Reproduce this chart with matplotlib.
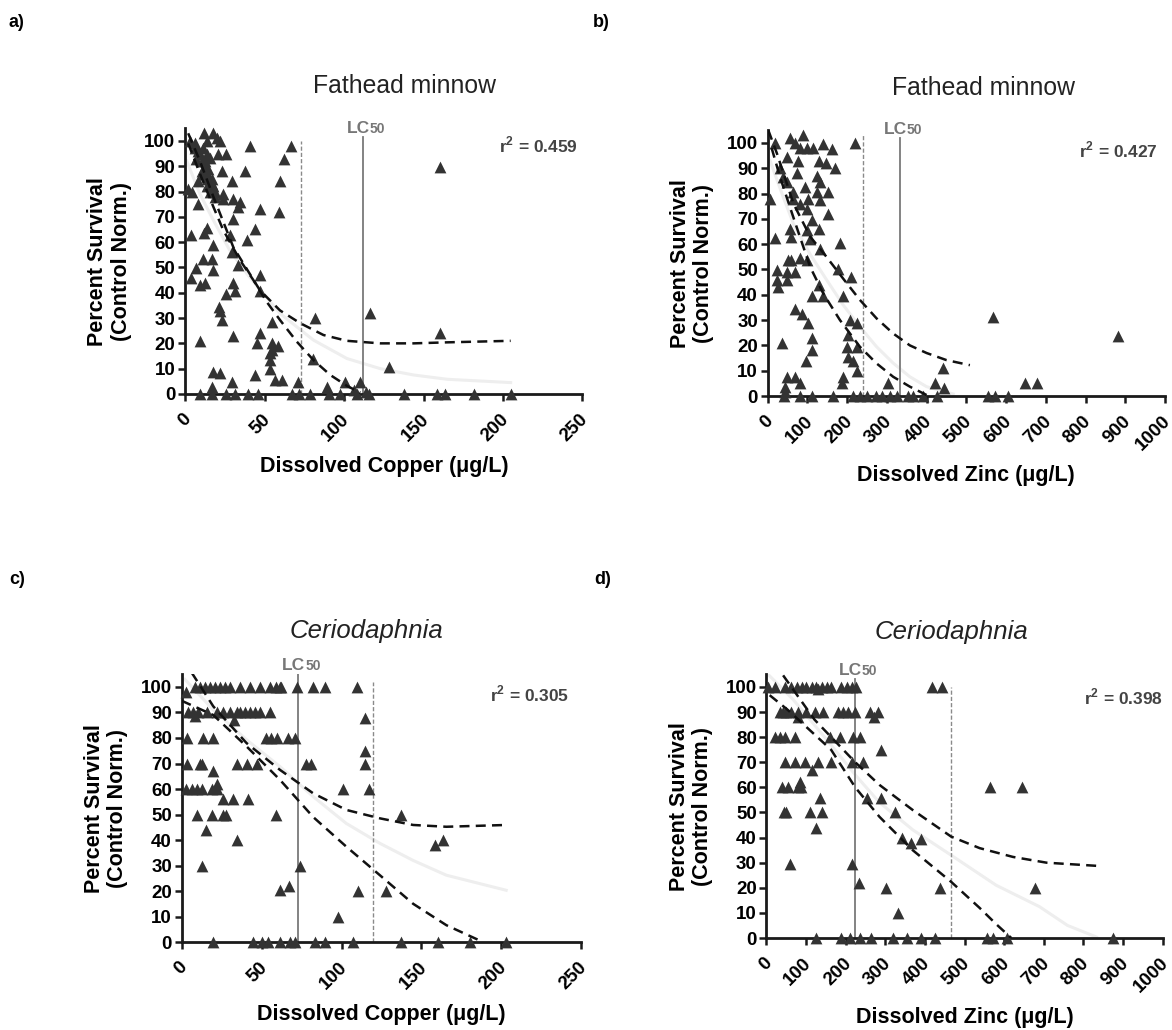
import matplotlib
matplotlib.use("Agg")
import matplotlib.pyplot as plt
from matplotlib.transforms import ScaledTranslation

plt.rcParams['font.family'] = ['Liberation Sans', 'DejaVu Sans']
plt.rcParams['mathtext.fontset'] = 'custom'
plt.rcParams['mathtext.rm'] = 'Liberation Sans'
plt.rcParams['mathtext.bf'] = 'Liberation Sans:bold'

# ---- a) fathead minnow, copper ----
a_x = [3, 11.8, 17.7, 13.5, 19.8, 21.9, 26, 20.8, 11.4, 9.3, 6, 7, 12.4, 14.5, 11.4, 13.5,
       16.6, 15.6, 18.7, 13.5, 8, 10.3, 23.3, 29.2, 24, 24, 30, 34.5, 33.4, 30, 47, 43.9,
       38.7, 37.7, 40.8, 66.4, 62.3, 59.7, 59.3, 160.6, 4, 2, 7.8, 3.4, 11.8, 13.5, 17.7, 7,
       3.8, 9.3, 12.4, 11.4, 16.6, 17.7, 28.2, 29.2, 33.4, 30.2, 31.3, 26, 47, 47, 21.4, 21.9,
       22.9, 30.2, 9.3, 47, 44.9, 54.4, 54.4, 53.4, 53.4, 53.4, 54.4, 58.7, 56.6, 60.7, 81.8,
       80.7, 116.5, 160.6, 128, 17.7, 21.9, 43.9, 16.6, 29.2, 71.3, 89, 100.7, 110, 106, 113.9,
       6, 8.2, 10.3, 12.4, 14.5, 16.6, 17.7, 18.7, 13.5, 15.6,
       9.3, 16.6, 26, 31.3, 39.7, 46, 67.4, 71.5, 78.6, 90.2, 97.5, 108, 115.4, 137.5, 158.6,
       163.8, 181.7, 204.8]
a_y = [100, 103, 103, 100, 101, 100, 95, 95, 97, 95, 97, 93, 92, 89, 87, 85,
       83, 80, 78, 82, 84, 88, 88, 84, 79, 77, 77, 76, 74, 69, 73, 65,
       61, 88, 98, 98, 93, 84, 72, 89.5, 80, 81, 75, 62.8, 63.5, 65.5, 59, 49.6,
       45.7, 43, 44, 53.5, 53.5, 49, 63, 56, 51, 44, 40.8, 39.5, 47, 40.8, 34.5, 32.6,
       29.2, 23, 21, 24, 20, 28.5, 17.4, 16, 13.4, 10, 20, 19, 5.5, 5.5, 30,
       14, 32, 24, 10.8, 8.8, 8.2, 7.5, 2.9, 4.9, 4.9, 2.9, 4.9, 4.9, 1.6, 0.9,
       99, 96, 92, 90, 86.4, 85, 82, 80, 95, 93.4,
       0, 0, 0, 0, 0, 0, 0, 0, 0, 0, 0, 0, 0, 0, 0,
       0, 0, 0]
a_fit_x = [1, 9.3, 17.7, 28, 38.7, 59.7, 80.7, 101.8, 122.8, 143.8, 165, 204.8]
a_fit_y = [92, 79, 68.7, 56.8, 47.6, 31.8, 21.3, 14, 10, 7.5, 5.8, 4.5]
a_hi_x = [1.9, 9.3, 17.7, 30.3, 47, 59.7, 72.3, 87, 101.8, 122.8, 143.8, 164.8, 204.8]
a_hi_y = [103, 92, 78, 58, 41, 33, 28, 23.3, 21, 20, 20, 20.4, 21]
a_lo_x = [1.9, 9.3, 17.7, 24, 34.5, 42.9, 51.3, 59.7, 70.2, 80.7, 91.3, 101.8, 110.2]
a_lo_y = [99, 87, 74, 64.7, 52.9, 45, 36.4, 29.2, 20.7, 13.4, 7.5, 3.2, 0.5]

# ---- b) fathead minnow, zinc ----
b_x = [18, 6, 18, 23, 23, 27, 35, 48, 48, 52, 60, 69, 60, 56, 69, 86, 102, 111, 111, 96, 48,
       69, 81, 44, 44, 56, 90, 69, 81, 98, 115, 140, 161, 170, 148, 128, 77, 48, 31, 39, 48,
       65, 65, 73, 94, 81, 98, 102, 123, 131, 123, 153, 131, 153, 111, 128, 98, 107, 132, 182,
       81, 98, 111, 128, 140, 178, 190, 211, 207, 224, 203, 199, 203, 216, 224, 224, 190, 186,
       220, 568, 882, 442, 421, 445, 648, 677, 304,
       42, 81, 111, 164, 216, 232, 251, 273, 287, 308, 325, 354, 367, 392, 425, 555, 572, 606]
b_y = [100, 78, 62.6, 49.7, 45.8, 43, 20.8, 45.8, 49, 53.7, 53.7, 49, 63, 66, 34.5, 32.6,
       28.7, 22.8, 18, 14, 7.6, 7.6, 5, 3.7, 1.7, 102, 103, 100, 98, 98, 98, 99.7, 97.8, 90,
       92, 93, 93, 94.5, 90, 86.6, 84.6, 80.7, 78, 88, 82.6, 76, 74, 78, 87, 84.6, 80.7, 80.7,
       77.4, 72, 69.5, 66, 65.5, 62, 58, 60.5, 54.5, 53.7, 39.5, 43.8, 39.5, 50, 39.5, 47,
       30, 28.7, 24, 19.5, 15.5, 14, 10, 19.5, 7.6, 5, 100, 31.3, 23.8, 11, 5, 3, 5, 5, 5,
       0, 0, 0, 0, 0, 0, 0, 0, 0, 0, 0, 0, 0, 0, 0, 0, 0, 0]
b_fit_x = [6, 39, 65, 107, 148, 190, 232, 274, 316, 358, 400, 467]
b_fit_y = [93, 78.7, 68, 56, 46, 36, 27.4, 19.5, 13, 7.6, 3.7, 0.8]
b_hi_x = [1.7, 23, 65, 107, 148, 190, 232, 274, 316, 358, 400, 450, 509]
b_hi_y = [105, 96, 76, 63, 55, 46.4, 38, 30.7, 24.7, 20, 17, 14.2, 12.2]
b_lo_x = [10, 31, 56, 81, 107, 140, 182, 232, 274, 316, 358, 400]
b_lo_y = [98, 86.6, 74.7, 63, 51, 40.5, 30, 19.5, 12.9, 7.6, 3.7, 0.4]

# ---- c) Ceriodaphnia, copper ----
c_x = [3, 8.3, 11.5, 14.6, 17.7, 20.8, 24, 27, 30.2, 36.5, 42.7, 49, 55, 59, 62, 61.5, 71.9,
       82.3, 89.6, 109.4,
       4.2, 7.3, 10.4, 15.6, 21.9, 26, 30.2, 34.4, 36.5, 39.6, 42.7, 45.8, 49, 55.2, 8.3, 33,
       114.6,
       3.1, 13.5, 19.8, 53, 56, 59.4, 66.7, 70.8,
       3.5, 11.5, 13, 34.4, 40.6, 46.9, 78, 81, 114.6, 114.6,
       3, 6.3, 9.4, 12.5, 18.8, 21.9, 21.9, 19.8, 101, 117,
       26, 32.3, 41.7, 9.4, 18.8, 26, 28, 59, 137.5,
       15.2, 34.4, 12.5, 74, 61.5, 67.3, 98, 110, 127.7, 158.3, 163.5,
       19.4, 44.8, 50, 54, 61.5, 67.7, 70.8, 83.3, 89.6, 107.3, 137.5, 160.4, 180.2, 203.1]
c_y = [98, 100, 100, 100, 100, 100, 100, 100, 100, 100, 100, 100, 100, 100, 100, 100, 100,
       100, 100, 100,
       90, 90, 90, 90, 90, 90, 90, 90, 90, 90, 90, 90, 90, 90, 88.5, 87, 88,
       80, 80, 80, 80, 80, 80, 80, 80,
       70, 70, 70, 70, 70, 70, 70, 70, 75, 70,
       60, 60, 60, 60, 60, 60, 62, 67, 60, 60,
       56, 56, 56, 50, 50, 50, 50, 50, 50,
       44, 40, 30, 30, 20.3, 22, 10, 20, 20, 38, 40,
       0, 0, 0, 0, 0, 0, 0, 0, 0, 0, 0, 0, 0, 0]
c_fit_x = [2, 19.8, 40.6, 61.5, 82.3, 103, 124, 144.8, 165.6, 203]
c_fit_y = [103, 91, 79.3, 68.8, 57, 46.5, 38.7, 32, 26.2, 20.3]
c_hi_x = [6.3, 19.8, 40.6, 61.5, 82.3, 103, 124, 144.8, 165.6, 203]
c_hi_y = [105.6, 92.4, 78, 67.5, 58.3, 51.8, 48.5, 45.9, 45.2, 45.9]
c_lo_x = [0, 19.8, 40.6, 61.5, 82.3, 103, 124, 144.8, 165.6, 188.5]
c_lo_y = [94.6, 89, 76.7, 63.6, 49, 37.4, 26.2, 15, 6.6, 0]

# ---- d) Ceriodaphnia, zinc ----
d_x = [4, 21, 46.3, 63, 76, 88.4, 101, 114, 126, 139, 152, 164, 189, 202, 215, 227, 417, 442,
       130,
       33.7, 42, 50.5, 63, 80, 101, 122, 143, 181, 194, 206, 223, 261, 282, 80, 272,
       21, 33.7, 46.3, 71.5, 160, 185, 219, 236,
       46.3, 71.5, 97, 130, 164, 215, 244, 114, 290,
       38, 55, 80, 88, 84, 564, 644,
       252.5, 290, 135,
       44, 50.5, 109, 141, 324,
       124, 59, 215, 234, 301, 438, 332.5, 341, 366, 391, 677.6,
       126, 189, 210, 236, 265, 320, 354, 391, 425, 556, 572, 606, 875]
d_y = [100, 100, 100, 100, 100, 100, 100, 100, 100, 100, 100, 100, 100, 100, 100, 100, 100, 100,
       99,
       90, 90, 90, 90, 90, 90, 90, 90, 90, 90, 90, 90, 90, 90, 88, 88,
       80, 80, 80, 80, 80, 80, 80, 80,
       70, 70, 70, 70, 70, 70, 70, 67, 75,
       60, 60, 60, 60, 62, 60, 60,
       55.6, 55.6, 55.6,
       50, 50, 50, 50, 50,
       44, 29.5, 29.5, 22, 20, 20, 10, 40, 38, 39.5, 20,
       0, 0, 0, 0, 0, 0, 0, 0, 0, 0, 0, 0, 0]
d_fit_x = [4, 67, 152, 224, 285, 370, 466, 580, 689, 760, 833]
d_fit_y = [105, 95, 79, 65, 54, 43, 33, 21, 12.5, 5, 0.4]
d_hi_x = [42, 121, 224, 285, 331, 369, 466, 538, 622, 707, 838]
d_hi_y = [104.6, 87, 70, 61, 55.5, 51, 40.4, 35.8, 32.3, 30, 28.7]
d_lo_x = [8, 54, 163, 224, 285, 369, 466, 538, 580, 618]
d_lo_y = [96.7, 90.8, 75, 60, 48.3, 35, 22.4, 12, 5.5, 0]

panels = [
    dict(rect=[0.158, 0.6175, 0.339, 0.258], x=a_x, y=a_y,
         fit=(a_fit_x, a_fit_y), hi=(a_hi_x, a_hi_y), lo=(a_lo_x, a_lo_y),
         xmax=250, xstep=50, lc50=111.9, lc_top=101.5, other=72.7, other_top=100,
         r2='0.459', r2pos=(0.987, 0.937), title='Fathead minnow', italic=False, tx=0.552,
         tlab='a)', tlabpos=(0.007, 0.978), xlabel='Dissolved Copper (μg/L)'),
    dict(rect=[0.655, 0.6155, 0.339, 0.258], x=b_x, y=b_y,
         fit=(b_fit_x, b_fit_y), hi=(b_hi_x, b_hi_y), lo=(b_lo_x, b_lo_y),
         xmax=1000, xstep=100, lc50=333, lc_top=102, other=239, other_top=103.5,
         r2='0.427', r2pos=(0.982, 0.926), title='Fathead minnow', italic=False, tx=0.544,
         tlab='b)', tlabpos=(0.506, 0.978), xlabel='Dissolved Zinc (μg/L)'),
    dict(rect=[0.155, 0.0854, 0.341, 0.260], x=c_x, y=c_y,
         fit=(c_fit_x, c_fit_y), hi=(c_hi_x, c_hi_y), lo=(c_lo_x, c_lo_y),
         xmax=250, xstep=50, lc50=72.9, lc_top=105, other=119.4, other_top=102,
         r2='0.305', r2pos=(0.97, 0.926), title='Ceriodaphnia', italic=True, tx=0.463,
         tlab='c)', tlabpos=(0.008, 0.437), xlabel='Dissolved Copper (μg/L)'),
    dict(rect=[0.654, 0.0893, 0.338, 0.256], x=d_x, y=d_y,
         fit=(d_fit_x, d_fit_y), hi=(d_hi_x, d_hi_y), lo=(d_lo_x, d_lo_y),
         xmax=1000, xstep=100, lc50=223, lc_top=103, other=467, other_top=100,
         r2='0.398', r2pos=(1.0, 0.914), title='Ceriodaphnia', italic=True, tx=0.467,
         tlab='d)', tlabpos=(0.507, 0.437), xlabel='Dissolved Zinc (μg/L)'),
]

fig = plt.figure(figsize=(11.72, 10.30), dpi=100)
shift = ScaledTranslation(-3 / 100, 0, fig.dpi_scale_trans)

for p in panels:
    ax = fig.add_axes(p['rect'])
    ax.set_xlim(0, p['xmax'])
    ax.set_ylim(0, 105)
    for s in ['top', 'right']:
        ax.spines[s].set_visible(False)
    for s in ['left', 'bottom']:
        ax.spines[s].set_linewidth(2.0)
        ax.spines[s].set_color('#1a1a1a')
    ax.set_xticks(range(0, p['xmax'] + 1, p['xstep']))
    ax.set_yticks(range(0, 101, 10))
    ax.tick_params(direction='out', length=5, width=1.8, color='#1a1a1a', labelsize=13.5)
    ax.tick_params(axis='y', pad=2)
    ax.tick_params(axis='x', pad=7)
    for lab in ax.get_yticklabels():
        lab.set_fontweight('bold')
    for lab in ax.get_xticklabels():
        lab.set_fontweight('bold')
        lab.set_rotation(45)
        lab.set_ha('right')
        lab.set_va('top')
        lab.set_rotation_mode('anchor')
        lab.set_transform(lab.get_transform() + shift)

    # fitted curve and confidence band
    ax.plot(*p['fit'], color='#eeeeee', lw=2.2, zorder=1)
    ax.plot(*p['hi'], color='#111111', lw=1.8, ls=(0, (4, 2.5)), zorder=4)
    ax.plot(*p['lo'], color='#111111', lw=1.8, ls=(0, (4, 2.5)), zorder=4)

    # LC50 and other reference line
    ax.axvline(p['lc50'], ymax=p['lc_top'] / 105, color='#7a7a7a', lw=1.3, zorder=2)
    ax.axvline(p['other'], ymax=p['other_top'] / 105, color='#8a8a8a', lw=1.0,
               ls=(0, (3, 1.5)), zorder=2)
    ax.annotate('LC', xy=(p['lc50'], p['lc_top'] + 0.5), xytext=(5, 0),
                textcoords='offset points', ha='right', va='bottom', fontsize=12.5,
                fontweight='bold', color='#777777', annotation_clip=False)
    ax.annotate('50', xy=(p['lc50'], p['lc_top'] + 0.5), xytext=(5, 0),
                textcoords='offset points', ha='left', va='bottom', fontsize=10,
                fontweight='bold', color='#777777', annotation_clip=False)

    ax.scatter(p['x'], p['y'], marker='^', s=72, color='#333333', linewidths=0,
               zorder=3, clip_on=False)

    ax.text(p['r2pos'][0], p['r2pos'][1], r'r$^{\mathbf{2}}$ = ' + p['r2'],
            transform=ax.transAxes, ha='right', va='center', fontsize=12.5,
            fontweight='bold', color='#444444')
    ax.text(p['tx'], 1.16, p['title'], transform=ax.transAxes, ha='center', va='center',
            fontsize=18.5 if p['italic'] else 17.8,
            style='italic' if p['italic'] else 'normal', color='#222222')

    ax.set_xlabel(p['xlabel'], fontsize=15.5, fontweight='bold', labelpad=8)
    ax.set_ylabel('Percent Survival\n(Control Norm.)', fontsize=15.5, fontweight='bold',
                  labelpad=9, linespacing=1.15)

    fig.text(p['tlabpos'][0], p['tlabpos'][1], p['tlab'], fontsize=13, fontweight='bold',
             ha='left', va='center')

fig.savefig('out.png', dpi=100, facecolor='white')
